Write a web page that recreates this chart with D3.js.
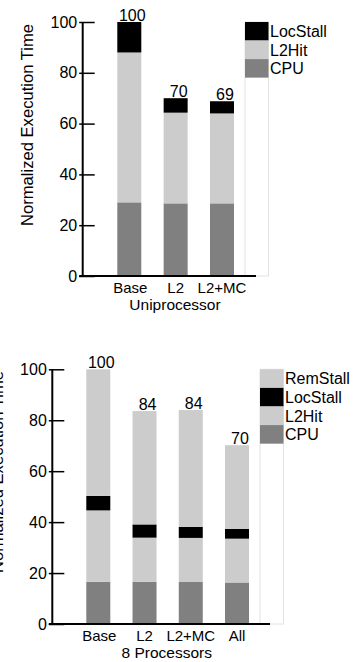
<!DOCTYPE html>
<html><head><meta charset="utf-8">
<script src="https://cdn.jsdelivr.net/npm/d3@7/dist/d3.min.js"></script>
<style>body{margin:0;background:#fff}svg{display:block}text{font-family:"Liberation Sans",Arial,sans-serif;fill:#000}</style>
</head><body>
<script>
// ---- data ----
const uniCategories = ["Base", "L2", "L2+MC"];
const uniCPU      = [29.0, 28.6, 28.6];
const uniL2Hit    = [59.0, 35.7, 35.4];
const uniLocStall = [12.0, 5.7, 4.8];
const uniTotals   = ["100", "70", "69"];
const uniLegend   = ["LocStall", "L2Hit", "CPU"];

const mpCategories = ["Base", "L2", "L2+MC", "All"];
const mpCPU      = [16.6, 16.6, 16.5, 16.3];
const mpL2Hit    = [28.0, 17.3, 17.3, 17.2];
const mpLocStall = [5.7, 5.2, 4.3, 3.8];
const mpRemStall = [49.7, 44.5, 45.9, 32.9];
const mpTotals   = ["100", "84", "84", "70"];
const mpLegend   = ["RemStall", "LocStall", "L2Hit", "CPU"];

const yTicks = [0, 20, 40, 60, 80, 100];
const yTitle = "Normalized Execution Time";

const colors = {CPU: "#808080", L2Hit: "#cccccc", LocStall: "#000000", RemStall: "#cccccc"};

const svg = d3.select("body").append("svg").attr("width", 357).attr("height", 662);

function panel(opt) {
  const g = svg.append("g");
  const y = d3.scaleLinear().domain([0, 100]).range([opt.y0, opt.y100]);
  const x = d3.scalePoint().domain(opt.categories).range(opt.xRange);
  const bw = 24;

  // stacked bars
  const rows = opt.categories.map((c, i) => {
    const r = {cat: c};
    opt.series.forEach(s => r[s.key] = s.values[i]);
    return r;
  });
  const stack = d3.stack().keys(opt.series.map(s => s.key))(rows);
  stack.forEach(layer => {
    g.selectAll(null).data(layer).enter().append("rect")
      .attr("x", d => x(d.data.cat) - bw / 2)
      .attr("width", bw)
      .attr("y", d => y(d[1]))
      .attr("height", d => y(d[0]) - y(d[1]))
      .attr("fill", colors[layer.key]);
  });
  // totals
  g.selectAll(null).data(stack[stack.length - 1]).enter().append("text")
    .attr("x", (d) => x(d.data.cat) + 3)
    .attr("y", d => y(d[1]) - 1.5)
    .attr("text-anchor", "middle")
    .attr("font-size", 16)
    .text((d, i) => opt.totals[i]);

  // legend column
  const lx = opt.legendX, lw = 23.5;
  g.append("rect").attr("x", lx).attr("y", y(100)).attr("width", lw)
    .attr("height", y(0) - y(100)).attr("fill", "#fff").attr("stroke", "#e2e2e2").attr("stroke-width", 1);
  const sh = (y(0) - y(100)) * 0.073;
  opt.legend.forEach((k, i) => {
    g.append("rect").attr("x", lx).attr("y", y(100) + i * sh).attr("width", lw).attr("height", sh)
      .attr("fill", colors[k]);
    g.append("text").attr("x", lx + lw + 1.5).attr("y", y(100) + i * sh + sh / 2)
      .attr("dy", "0.36em").attr("font-size", 16).text(k);
  });

  // y axis
  const ax = g.append("g").attr("transform", `translate(${opt.axisX},0)`)
    .call(d3.axisLeft(y).tickValues(yTicks).tickSize(-12).tickPadding(5.5));
  ax.select(".domain").remove();
  ax.selectAll(".tick line").attr("x1", -3.5).attr("stroke", "#000").attr("stroke-width", 1.5);
  ax.selectAll(".tick text").attr("font-size", 16).attr("font-family", '"Liberation Sans",Arial,sans-serif').attr("fill", "#000");
  g.append("line").attr("x1", opt.axisX).attr("x2", opt.axisX).attr("y1", y(100)).attr("y2", y(0))
    .attr("stroke", "#000").attr("stroke-width", 2);
  g.append("line").attr("x1", opt.axisX - 3.5).attr("x2", opt.xEnd).attr("y1", y(0)).attr("y2", y(0))
    .attr("stroke", "#000").attr("stroke-width", 2);

  // x labels
  g.selectAll(null).data(opt.categories).enter().append("text")
    .attr("x", d => x(d) + (d === "Base" ? 1 : 0)).attr("y", y(0) + 17.2)
    .attr("text-anchor", "middle").attr("font-size", 15).text(d => d);
  g.append("text").attr("x", opt.titleX).attr("y", y(0) + 34.3)
    .attr("text-anchor", "middle").attr("font-size", 15.5).text(opt.title);

  // y title
  g.append("text").attr("transform", `translate(${opt.axisX - 49.5},${opt.yTitleC}) rotate(-90)`)
    .attr("text-anchor", "middle").attr("font-size", 16.6).text(yTitle);
}

panel({
  categories: uniCategories,
  series: [{key: "CPU", values: uniCPU}, {key: "L2Hit", values: uniL2Hit}, {key: "LocStall", values: uniLocStall}],
  totals: uniTotals, legend: uniLegend,
  y0: 276, y100: 22, xRange: [129.3, 222], axisX: 82.7, xEnd: 256,
  legendX: 245, title: "Uniprocessor", titleX: 175, yTitleC: 125
});

panel({
  categories: mpCategories,
  series: [{key: "CPU", values: mpCPU}, {key: "L2Hit", values: mpL2Hit}, {key: "LocStall", values: mpLocStall}, {key: "RemStall", values: mpRemStall}],
  totals: mpTotals, legend: mpLegend,
  y0: 624, y100: 369.3, xRange: [98.3, 237], axisX: 52.3, xEnd: 270,
  legendX: 260, title: "8 Processors", titleX: 166.7, yTitleC: 472
});
</script>
</body></html>
